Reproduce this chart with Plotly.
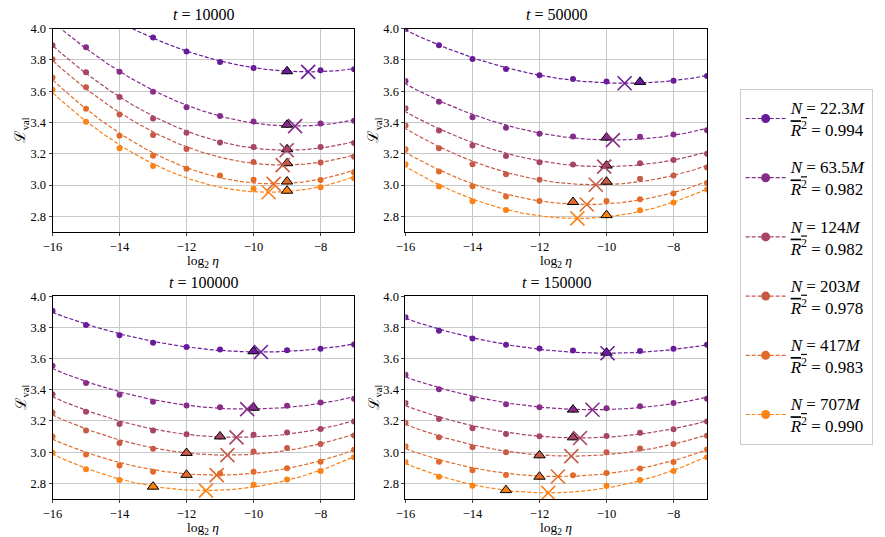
import numpy as np
import plotly.graph_objects as go

# ---------------- data ----------------
log2_lr = [-16, -15, -14, -13, -12, -11, -10, -9, -8, -7]
steps = ["10000", "50000", "100000", "150000"]
model_sizes = ["22.3M", "63.5M", "124M", "203M", "417M", "707M"]
r2_mean = ["0.994", "0.982", "0.982", "0.978", "0.983", "0.990"]
colors = ["#6a1b9a", "#882c8a", "#a84369", "#c65a47", "#e26b2b", "#fb8214"]

N = None
loss_t10000 = [
    [N, N, N, 3.943, 3.855, 3.787, 3.749, 3.728, 3.735, 3.741],
    [N, 3.882, 3.725, 3.597, 3.498, 3.442, 3.406, 3.386, 3.394, 3.411],
    [3.895, 3.721, 3.563, 3.426, 3.334, 3.272, 3.243, 3.229, 3.244, 3.270],
    [3.804, 3.625, 3.452, 3.321, 3.231, N, 3.147, 3.140, 3.145, 3.182],
    [3.688, 3.488, 3.316, 3.188, 3.104, 3.061, 3.034, 3.023, 3.032, 3.081],
    [3.609, 3.405, 3.236, 3.122, N, N, 2.977, 2.964, 2.987, 3.044],
]
loss_t50000 = [
    [3.998, 3.894, 3.806, 3.742, 3.703, 3.678, 3.663, 3.660, 3.668, 3.697],
    [3.666, 3.533, 3.434, 3.367, 3.328, 3.311, 3.304, 3.309, 3.324, 3.350],
    [3.492, 3.349, 3.253, 3.186, 3.146, 3.132, 3.125, 3.139, 3.160, 3.200],
    [3.381, 3.236, 3.133, 3.070, 3.034, N, 3.022, 3.040, 3.062, 3.113],
    [3.230, 3.087, 2.992, 2.927, 2.898, 2.892, 2.899, 2.909, 2.946, 3.014],
    [3.134, 2.991, 2.897, 2.841, N, N, 2.808, 2.840, 2.888, 2.972],
]
loss_t100000 = [
    [3.907, 3.815, 3.749, 3.701, 3.675, 3.659, 3.647, 3.653, 3.663, 3.690],
    [3.554, 3.444, 3.368, 3.324, 3.300, 3.288, 3.285, 3.297, 3.318, 3.343],
    [3.371, 3.259, 3.181, 3.139, 3.115, 3.101, 3.112, 3.126, 3.149, 3.196],
    [3.255, 3.139, 3.059, 3.022, 2.995, N, 3.005, 3.027, 3.053, 3.107],
    [3.101, 2.985, 2.914, 2.875, 2.855, 2.863, 2.875, 2.897, 2.939, 3.015],
    [2.996, 2.891, 2.821, 2.779, N, N, 2.791, 2.825, 2.880, 2.968],
]
loss_t150000 = [
    [3.865, 3.779, 3.728, 3.688, 3.665, 3.652, 3.638, 3.648, 3.663, 3.688],
    [3.497, 3.404, 3.343, 3.307, 3.288, 3.273, 3.282, 3.295, 3.316, 3.343],
    [3.316, 3.213, 3.154, 3.117, 3.102, 3.095, 3.104, 3.124, 3.147, 3.196],
    [3.189, 3.095, 3.032, 3.000, 2.980, N, 3.000, 3.023, 3.053, 3.105],
    [3.038, 2.939, 2.884, 2.854, 2.843, 2.853, 2.867, 2.895, 2.937, 3.017],
    [2.937, 2.842, 2.785, 2.757, N, N, 2.785, 2.821, 2.880, 2.968],
]

# fitted optimum (x markers)
opt_lr_t10000 = [-8.37, -8.76, -9.01, -9.13, -9.40, -9.55]
opt_loss_t10000 = [3.724, 3.377, 3.223, 3.128, 3.008, 2.954]
opt_lr_t50000 = [-9.46, -9.81, -10.07, -10.32, -10.59, -10.87]
opt_loss_t50000 = [3.651, 3.288, 3.118, 3.002, 2.876, 2.787]
opt_lr_t100000 = [-9.78, -10.19, -10.51, -10.78, -11.10, -11.42]
opt_loss_t100000 = [3.642, 3.276, 3.095, 2.981, 2.853, 2.754]
opt_lr_t150000 = [-9.97, -10.42, -10.79, -11.05, -11.45, -11.74]
opt_loss_t150000 = [3.634, 3.272, 3.091, 2.975, 2.844, 2.739]

panels = [
    (loss_t10000, opt_lr_t10000, opt_loss_t10000),
    (loss_t50000, opt_lr_t50000, opt_loss_t50000),
    (loss_t100000, opt_lr_t100000, opt_loss_t100000),
    (loss_t150000, opt_lr_t150000, opt_loss_t150000),
]

# ---------------- layout geometry ----------------
W, H = 885, 537
FONT = "Liberation Serif, DejaVu Serif, serif"
px_x = [(43, 348), (400, 705), (43, 348), (400, 705)]
px_y = [(22, 228), (22, 228), (293, 498.5), (293, 498.5)]

fig = go.Figure()
xs_dense = np.linspace(-16.5, -6.5, 300)

for p, (loss, olr, oloss) in enumerate(panels):
    xa = "x" if p == 0 else f"x{p+1}"
    ya = "y" if p == 0 else f"y{p+1}"
    for s in range(6):
        xv = np.array([x for x, v in zip(log2_lr, loss[s]) if v is not None], float)
        yv = np.array([v for v in loss[s] if v is not None], float)
        x0, y0 = olr[s], oloss[s]
        d = xv - x0
        a = np.sum((yv - y0) * d**2) / np.sum(d**4)
        yfit = y0 + a * (xs_dense - x0) ** 2
        c = colors[s]
        fig.add_trace(go.Scatter(x=xs_dense, y=yfit, mode="lines",
                                 line=dict(color=c, width=1.2, dash="4px,2px"),
                                 showlegend=False, hoverinfo="skip",
                                 xaxis=xa, yaxis=ya))
        fig.add_trace(go.Scatter(x=log2_lr, y=loss[s], mode="markers",
                                 marker=dict(color=c, size=6),
                                 showlegend=False, xaxis=xa, yaxis=ya))
    for s in range(6):
        c = colors[s]
        xv = [x for x, v in zip(log2_lr, loss[s]) if v is not None]
        yv = [v for v in loss[s] if v is not None]
        i = int(np.argmin(yv))
        fig.add_trace(go.Scatter(x=[xv[i]], y=[yv[i]], mode="markers",
                                 marker=dict(color=c, size=10, symbol="triangle-up",
                                             line=dict(color="black", width=1)),
                                 showlegend=False, xaxis=xa, yaxis=ya))
        fig.add_trace(go.Scatter(x=[olr[s]], y=[oloss[s]], mode="markers",
                                 marker=dict(color=c, size=14, symbol="x-thin-open",
                                             line=dict(color=c, width=1.6)),
                                 showlegend=False, xaxis=xa, yaxis=ya))

# legend entries
for s in range(6):
    label = (f"<i>N</i> = {model_sizes[s][:-1]}<i>M</i><br>"
             f"<span style='text-decoration:overline'><i>R</i><sup>2</sup></span> = {r2_mean[s]}")
    fig.add_trace(go.Scatter(x=[None], y=[None], mode="lines+markers",
                             line=dict(color=colors[s], width=1.2, dash="4px,2px"),
                             marker=dict(color=colors[s], size=9),
                             name=label, legendgroup=f"g{s}", showlegend=True,
                             xaxis="x", yaxis="y"))

layout = dict(
    width=W, height=H,
    margin=dict(l=0, r=0, t=0, b=0),
    paper_bgcolor="white", plot_bgcolor="white",
    font=dict(family=FONT, color="black", size=12),
    legend=dict(x=738 / W, y=1 - 83 / H, xanchor="left", yanchor="top",
                bgcolor="white", bordercolor="#cccccc", borderwidth=1,
                font=dict(family=FONT, size=17), tracegroupgap=12,
                itemwidth=40),
    annotations=[],
)

for p in range(4):
    sfx = "" if p == 0 else str(p + 1)
    (xl, xr), (yt, yb) = px_x[p], px_y[p]
    layout["xaxis" + sfx] = dict(
        domain=[xl / W, xr / W], range=[-16, -7], anchor="y" + sfx,
        tickvals=[-16, -14, -12, -10, -8], ticks="outside", ticklen=3,
        showgrid=True, gridcolor="#c8c8c8", gridwidth=1,
        showline=True, linecolor="black", linewidth=1, mirror=True,
        zeroline=False, tickfont=dict(size=12.5, family=FONT),
    )
    layout["yaxis" + sfx] = dict(
        domain=[1 - yb / H, 1 - yt / H], range=[2.7, 4.0], anchor="x" + sfx,
        tickvals=[2.8, 3.0, 3.2, 3.4, 3.6, 3.8, 4.0], tickformat=".1f",
        ticks="outside", ticklen=3,
        showgrid=True, gridcolor="#c8c8c8", gridwidth=1,
        showline=True, linecolor="black", linewidth=1, mirror=True,
        zeroline=False, tickfont=dict(size=12.5, family=FONT),
    )
    # subplot title
    layout["annotations"].append(dict(
        text=f"<i>t</i> = {steps[p]}", xref="paper", yref="paper",
        x=(xl + xr) / 2 / W, y=1 - (yt - 14) / H, xanchor="center", yanchor="middle",
        showarrow=False, font=dict(size=16, family=FONT)))
    # x-axis title
    layout["annotations"].append(dict(
        text="log<sub>2</sub> <i>η</i>", xref="paper", yref="paper",
        x=(xl + xr) / 2 / W, y=1 - (yb + 30) / H, xanchor="center", yanchor="middle",
        showarrow=False, font=dict(size=13.5, family=FONT)))
    # y-axis title
    layout["annotations"].append(dict(
        text="ℒ<sub>val</sub>", xref="paper", yref="paper", textangle=-90,
        x=(xl - 31) / W, y=1 - (yt + yb) / 2 / H, xanchor="center", yanchor="middle",
        showarrow=False, font=dict(size=15, family=FONT)))

fig.update_layout(**layout)
fig.write_html("out.html")
